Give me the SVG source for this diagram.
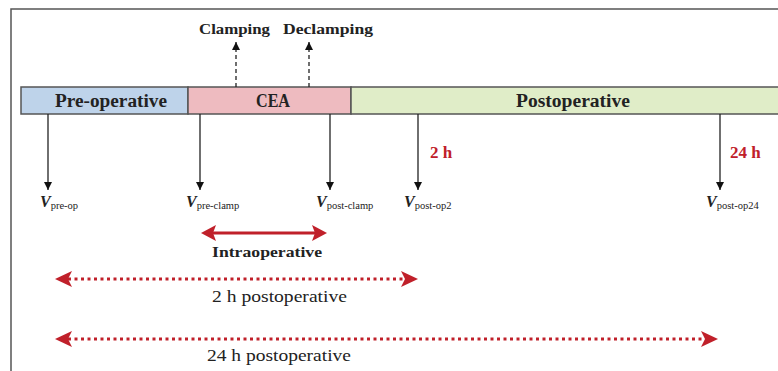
<svg xmlns="http://www.w3.org/2000/svg" width="778" height="371" viewBox="0 0 778 371">
<defs>
<style>
.lbl{font-family:"Liberation Serif","Times New Roman",serif;font-weight:bold;fill:#222;text-anchor:middle}
.bar{font-size:18px}
.ev{font-size:15.5px}
.red{fill:#c0202a;font-size:17px;font-weight:bold;font-family:"Liberation Serif",serif}
.v{font-family:"Liberation Serif",serif;font-style:italic;font-weight:bold;font-size:16px;fill:#222}
.sub{font-family:"Liberation Serif",serif;font-size:10.5px;fill:#222;font-style:normal;font-weight:normal}
.reg{font-family:"Liberation Serif",serif;font-size:17px;fill:#222;text-anchor:middle}
.tick{stroke:#222;stroke-width:1.3;fill:none}
.dash{stroke:#222;stroke-width:1.3;stroke-dasharray:4 3;fill:none}
.dot{stroke:#c0202a;stroke-width:3;stroke-dasharray:3 3.5;fill:none}
</style>
<marker id="ah" viewBox="0 0 10 10" refX="10" refY="5" markerWidth="8" markerHeight="8" markerUnits="userSpaceOnUse" orient="auto"><path d="M0,0 L10,5 L0,10 Z" fill="#111"/></marker>
</defs>
<rect x="11" y="9" width="780" height="380" fill="none" stroke="#555" stroke-width="1.5"/>
<g id="pre-operative"><rect x="21" y="87" width="167" height="27" fill="#bed3ea" stroke="#555" stroke-width="1.5"/><text class="lbl bar" x="111" y="106.5" textLength="112" lengthAdjust="spacingAndGlyphs">Pre-operative</text></g>
<g id="cea"><rect x="188" y="87" width="163" height="27" fill="#eebbc0" stroke="#555" stroke-width="1.5"/><text class="lbl bar" x="273" y="106.5" textLength="34" lengthAdjust="spacingAndGlyphs">CEA</text></g>
<g id="postoperative"><rect x="351" y="87" width="440" height="27" fill="#e0edc8" stroke="#555" stroke-width="1.5"/><text class="lbl bar" x="573" y="106.5" textLength="114" lengthAdjust="spacingAndGlyphs">Postoperative</text></g>
<g id="clamping"><text class="lbl ev" x="234.5" y="34" textLength="71" lengthAdjust="spacingAndGlyphs">Clamping</text></g>
<g id="declamping"><text class="lbl ev" x="328" y="34" textLength="90" lengthAdjust="spacingAndGlyphs">Declamping</text></g>
<g id="v-pre-op"><text class="v" x="40" y="207">V<tspan class="sub" dy="2">pre-op</tspan></text></g>
<g id="v-pre-clamp"><text class="v" x="186" y="207">V<tspan class="sub" dy="2">pre-clamp</tspan></text></g>
<g id="v-post-clamp"><text class="v" x="316" y="207">V<tspan class="sub" dy="2">post-clamp</tspan></text></g>
<g id="v-post-op2"><text class="v" x="404" y="207">V<tspan class="sub" dy="2">post-op2</tspan></text></g>
<g id="v-post-op24"><text class="v" x="706" y="207">V<tspan class="sub" dy="2">post-op24</tspan></text></g>
<g id="t2h"><text class="red" x="430" y="158">2 h</text></g>
<g id="t24h"><text class="red" x="730" y="158">24 h</text></g>
<g id="intraoperative"><text class="lbl ev" x="267" y="257" textLength="110" lengthAdjust="spacingAndGlyphs">Intraoperative</text></g>
<g id="post2"><text class="reg" x="279.5" y="302" textLength="135" lengthAdjust="spacingAndGlyphs">2 h postoperative</text></g>
<g id="post24"><text class="reg" x="279" y="361" textLength="144" lengthAdjust="spacingAndGlyphs">24 h postoperative</text></g>
<g id="connectors">
<line class="dash" x1="236" y1="87" x2="236" y2="42" marker-end="url(#ah)"/>
<line class="dash" x1="309" y1="87" x2="309" y2="42" marker-end="url(#ah)"/>
<line class="tick" x1="48" y1="114" x2="48" y2="190" marker-end="url(#ah)"/>
<line class="tick" x1="200" y1="114" x2="200" y2="190" marker-end="url(#ah)"/>
<line class="tick" x1="330" y1="114" x2="330" y2="190" marker-end="url(#ah)"/>
<line class="tick" x1="418" y1="114" x2="418" y2="190" marker-end="url(#ah)"/>
<line class="tick" x1="720" y1="114" x2="720" y2="190" marker-end="url(#ah)"/>
<line x1="212" y1="233" x2="316" y2="233" stroke="#c0202a" stroke-width="3"/>
<path d="M201,233 L216,225 L213,233 L216,241 Z" fill="#c0202a"/>
<path d="M327,233 L312,225 L315,233 L312,241 Z" fill="#c0202a"/>
<line class="dot" x1="68" y1="279" x2="406" y2="279"/>
<path d="M55,279 L72,271 L68,279 L72,287 Z" fill="#c0202a"/>
<path d="M418,279 L401,271 L405,279 L401,287 Z" fill="#c0202a"/>
<line class="dot" x1="68" y1="339" x2="706" y2="339"/>
<path d="M55,339 L72,331 L68,339 L72,347 Z" fill="#c0202a"/>
<path d="M718,339 L701,331 L705,339 L701,347 Z" fill="#c0202a"/>
</g>
</svg>
